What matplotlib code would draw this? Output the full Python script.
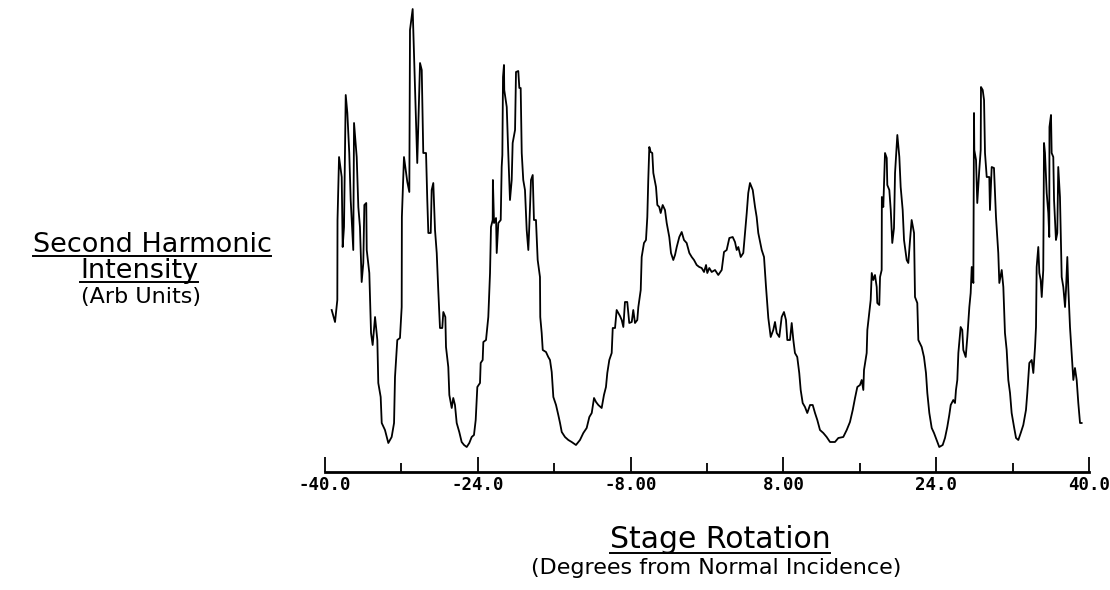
import matplotlib
matplotlib.use("Agg")
import matplotlib.pyplot as plt
from matplotlib.lines import Line2D

# stage rotation (degrees) and second harmonic signal (arb units)
angle = [
    -39.30, -38.95, -38.71, -38.69, -38.53, -38.25, -38.15, -38.01, -37.83, -37.66,
    -37.46, -37.31, -37.04, -36.96, -36.68, -36.51, -36.34, -36.16, -35.99, -35.88,
    -35.68, -35.63, -35.36, -35.18, -35.01, -34.76, -34.52, -34.42, -34.17, -34.06,
    -33.72, -33.37, -33.02, -32.77, -32.67, -32.43, -32.15, -31.97, -31.95, -31.73,
    -31.38, -31.17, -31.10, -30.82, -30.34, -30.05, -29.87, -29.71, -29.42, -29.29,
    -29.18, -28.93, -28.83, -28.66, -28.48, -28.30, -28.14, -27.96, -27.72, -27.61,
    -27.40, -27.33, -27.09, -26.98, -26.73, -26.57, -26.39, -26.21, -25.94, -25.69,
    -25.44, -25.16, -24.89, -24.64, -24.40, -24.22, -24.05, -23.77, -23.70, -23.49,
    -23.42, -23.14, -22.90, -22.72, -22.62, -22.44, -22.42, -22.30, -22.09, -22.02,
    -21.85, -21.60, -21.50, -21.43, -21.36, -21.26, -21.23, -20.97, -20.81, -20.63,
    -20.45, -20.35, -20.10, -20.00, -19.76, -19.65, -19.51, -19.40, -19.24, -19.06,
    -18.88, -18.71, -18.61, -18.43, -18.25, -18.12, -17.91, -17.73, -17.49, -17.46,
    -17.31, -17.20, -16.86, -16.62, -16.44, -16.26, -16.09, -15.81, -15.57, -15.39,
    -15.21, -14.87, -14.52, -14.17, -13.72, -13.30, -12.95, -12.60, -12.32, -12.07,
    -11.83, -11.62, -11.38, -11.03, -10.79, -10.58, -10.44, -10.23, -9.98, -9.87,
    -9.63, -9.46, -9.29, -9.11, -8.93, -8.76, -8.59, -8.35, -8.14, -7.88,
    -7.72, -7.54, -7.30, -7.19, -6.94, -6.84, -6.60, -6.39, -6.25, -6.15,
    -6.04, -5.90, -5.73, -5.62, -5.34, -5.20, -5.00, -4.85, -4.64, -4.40,
    -4.22, -3.95, -3.77, -3.53, -3.35, -3.17, -2.90, -2.65, -2.41, -2.13,
    -1.85, -1.60, -1.36, -1.08, -0.81, -0.56, -0.31, -0.10, 0.03, 0.24,
    0.49, 0.84, 1.18, 1.54, 1.78, 2.06, 2.34, 2.69, 2.93, 3.11,
    3.28, 3.53, 3.80, 3.98, 4.16, 4.32, 4.50, 4.79, 5.03, 5.20,
    5.37, 5.73, 5.97, 6.18, 6.42, 6.67, 6.94, 7.12, 7.30, 7.57,
    7.82, 8.06, 8.27, 8.41, 8.69, 8.87, 9.04, 9.21, 9.45, 9.66,
    9.81, 10.02, 10.26, 10.50, 10.79, 11.07, 11.31, 11.55, 11.83, 12.18,
    12.53, 12.88, 13.40, 13.75, 14.27, 14.63, 14.97, 15.26, 15.50, 15.74,
    16.02, 16.20, 16.37, 16.44, 16.72, 16.79, 16.99, 17.14, 17.25, 17.41,
    17.59, 17.77, 17.83, 18.04, 18.12, 18.29, 18.31, 18.46, 18.64, 18.82,
    18.88, 19.09, 19.24, 19.40, 19.58, 19.69, 19.93, 20.14, 20.28, 20.49,
    20.63, 20.91, 21.08, 21.26, 21.43, 21.68, 21.78, 22.02, 22.13, 22.48,
    22.72, 22.93, 23.07, 23.28, 23.53, 23.77, 24.05, 24.32, 24.68, 24.92,
    25.16, 25.37, 25.52, 25.79, 25.97, 26.07, 26.21, 26.32, 26.56, 26.73,
    26.84, 27.09, 27.26, 27.47, 27.61, 27.72, 27.89, 27.96, 27.99, 28.17,
    28.30, 28.51, 28.66, 28.69, 28.87, 29.01, 29.11, 29.29, 29.56, 29.63,
    29.81, 30.05, 30.26, 30.50, 30.61, 30.86, 31.03, 31.20, 31.38, 31.55,
    31.73, 31.90, 32.15, 32.36, 32.60, 32.85, 33.12, 33.40, 33.54, 33.75,
    34.00, 34.17, 34.35, 34.45, 34.52, 34.69, 34.80, 34.94, 35.05, 35.21,
    35.29, 35.39, 35.57, 35.74, 35.84, 35.86, 36.02, 36.09, 36.26, 36.34,
    36.54, 36.68, 36.78, 36.96, 37.14, 37.31, 37.49, 37.59, 37.73, 37.83,
    38.01, 38.19, 38.36, 38.53, 38.71, 38.88, 39.06, 39.23,
]
signal = [
    140, 128, 150, 230, 293, 273, 203, 223, 355, 337,
    297, 250, 200, 327, 293, 243, 223, 168, 187, 245,
    247, 200, 177, 117, 105, 133, 110, 67, 53, 27,
    20, 7, 13, 27, 73, 110, 112, 143, 233, 293,
    268, 258, 420, 441, 287, 387, 380, 297, 297, 250,
    217, 217, 260, 267, 220, 197, 160, 122, 122, 138,
    133, 103, 83, 55, 42, 52, 45, 27, 18, 8,
    5, 3, 7, 13, 15, 30, 63, 67, 87, 90,
    108, 110, 133, 177, 223, 230, 270, 227, 232, 197,
    227, 230, 283, 295, 373, 385, 360, 343, 297, 250,
    270, 307, 320, 378, 379, 362, 362, 297, 270, 260,
    220, 200, 223, 270, 275, 230, 230, 190, 173, 133,
    117, 100, 98, 93, 90, 78, 53, 45, 35, 27,
    18, 13, 10, 8, 5, 10, 17, 22, 33, 37,
    52, 48, 45, 42, 55, 63, 77, 90, 97, 122,
    122, 140, 137, 134, 130, 123, 148, 148, 127, 128,
    140, 127, 130, 143, 160, 193, 207, 210, 233, 270,
    303, 298, 297, 277, 263, 245, 243, 237, 245, 240,
    227, 213, 197, 190, 195, 203, 213, 218, 210, 207,
    197, 193, 190, 185, 183, 182, 178, 185, 177, 182,
    178, 180, 175, 180, 198, 200, 212, 213, 208, 200,
    203, 193, 197, 217, 237, 257, 267, 260, 243, 233,
    217, 200, 193, 163, 132, 113, 120, 128, 117, 113,
    133, 138, 130, 110, 110, 127, 110, 97, 93, 77,
    60, 47, 43, 37, 45, 45, 37, 30, 20, 17,
    13, 8, 8, 12, 13, 20, 28, 40, 52, 63,
    65, 70, 60, 80, 97, 120, 137, 150, 177, 170,
    175, 163, 147, 145, 173, 180, 253, 243, 297, 292,
    265, 260, 240, 207, 222, 277, 315, 293, 263, 240,
    210, 190, 187, 210, 230, 217, 153, 147, 110, 103,
    93, 77, 57, 37, 22, 17, 10, 3, 5, 12,
    23, 35, 45, 50, 47, 60, 70, 97, 123, 120,
    100, 93, 113, 143, 157, 183, 167, 337, 300, 290,
    247, 280, 300, 363, 360, 350, 297, 273, 273, 240,
    283, 282, 233, 197, 167, 180, 163, 117, 100, 70,
    57, 37, 23, 12, 10, 17, 25, 40, 57, 87,
    90, 77, 103, 123, 183, 203, 177, 170, 153, 180,
    307, 297, 257, 237, 213, 323, 335, 297, 293, 250,
    210, 217, 283, 253, 173, 163, 143, 160, 193, 163,
    123, 95, 70, 82, 70, 47, 27, 27,
]

major_ticks = [-40, -24, -8, 8, 24, 40]
major_labels = ["-40.0", "-24.0", "-8.00", "8.00", "24.0", "40.0"]
minor_ticks = [-32, -16, 0, 16, 32]

W, H = 1110, 590
fig = plt.figure(figsize=(W / 100, H / 100), dpi=100)
ax = fig.add_axes([325 / W, 1 - 472 / H, 764 / W, 472 / H])

ax.plot(angle, signal, color="black", linewidth=1.3)

ax.set_xlim(-40, 40)
ax.set_ylim(-22, 450)
for side in ["top", "left", "right"]:
    ax.spines[side].set_visible(False)
ax.spines["bottom"].set_linewidth(2)
ax.set_yticks([])

ax.set_xticks(major_ticks)
ax.set_xticklabels(major_labels, family="DejaVu Sans Mono", fontweight="bold", fontsize=12.5)
ax.set_xticks(minor_ticks, minor=True)
ax.tick_params(axis="x", which="major", direction="in", length=11, width=1.3, pad=3)
ax.tick_params(axis="x", which="minor", direction="in", length=6.5, width=1.3)


def label(x, y, s, size):
    return fig.text(x / W, 1 - y / H, s, ha="center", va="baseline",
                    fontsize=size, family="DejaVu Sans")


underlined = [
    label(152, 252, "Second Harmonic", 19.5),
    label(139, 278, "Intensity", 19.5),
    label(720, 548, "Stage Rotation", 21.5),
]
label(141, 303, "(Arb Units)", 16)
label(716, 574, "(Degrees from Normal Incidence)", 16)

# underline the titles
fig.canvas.draw()
r = fig.canvas.get_renderer()
for t in underlined:
    bb = t.get_window_extent(r)
    yb = t.get_position()[1] * H - 4.5
    fig.add_artist(Line2D([bb.x0 / W, bb.x1 / W], [yb / H, yb / H],
                          transform=fig.transFigure, color="black", linewidth=1.4))

fig.savefig("out.png", dpi=100)
